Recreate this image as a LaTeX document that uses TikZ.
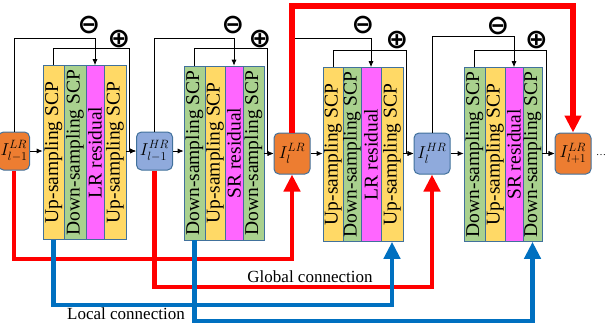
\documentclass[tikz,border=0pt]{standalone}
\usepackage{fontspec}
\setmainfont{Liberation Serif}
\newfontfamily\signfont{DejaVu Sans}
\usepackage{amsmath}
\usepackage{amssymb}
\usetikzlibrary{arrows.meta}

\definecolor{boxorange}{HTML}{ED7D31}
\definecolor{boxblue}{HTML}{8FAADC}
\definecolor{edgeblue}{HTML}{41719C}
\definecolor{colyellow}{HTML}{FFD966}
\definecolor{colgreen}{HTML}{A9D18E}
\definecolor{colpink}{HTML}{FF66FF}
\definecolor{linkblue}{HTML}{0070C0}

\begin{document}
\begin{tikzpicture}[x=1pt,y=-1pt,>={Latex[length=6pt,width=5pt]},line width=0.8pt,
  ibox/.style={draw=edgeblue,line width=1pt,rounded corners=5pt,minimum width=36pt,inner sep=0pt,font=\fontsize{18.5}{19}\selectfont},
  lrbox/.style={ibox,fill=boxorange,minimum height=#1},
  hrbox/.style={ibox,fill=boxblue,minimum height=#1},
  col/.style={draw=edgeblue,line width=0.6pt,minimum height=174pt,minimum width=#1,inner sep=0pt,font=\fontsize{19.5}{20}\selectfont},
  sign/.style={inner sep=0pt,font=\signfont\bfseries\fontsize{27}{27}\selectfont},
  globalline/.style={line width=4.5pt,red,-{Triangle[length=17pt,width=16pt]}},
  localline/.style={line width=4.5pt,linkblue,-{Triangle[length=17pt,width=16pt]}}]
  \useasboundingbox (0,0) rectangle (609,329);

  % feature nodes
  \node[lrbox=38pt,minimum width=31pt] (lrA) at (14,151) {$I_{l-1}^{LR}$};
  \node[hrbox=38pt] (hrA) at (154.5,151) {$I_{l-1}^{HR}$};
  \node[lrbox=41pt] (lrB) at (292,153.5) {$I_{l}^{LR}$};
  \node[hrbox=41pt] (hrB) at (432,153.5) {$I_{l}^{HR}$};
  \node[lrbox=41pt] (lrC) at (573,153.5) {$I_{l+1}^{LR}$};
  \node (dots) at (601,155) {\ldots};

  % block 1
  \node[col=21pt,fill=colyellow] (b1c1) at (53.5,152.5) {\rotatebox{90}{Up-sampling SCP}};
  \node[col=22pt,fill=colgreen]  (b1c2) at (75,152.5)   {\rotatebox{90}{Down-sampling SCP}};
  \node[col=18pt,fill=colpink]   (b1c3) at (95,152.5)   {\rotatebox{90}{LR residual}};
  \node[col=22pt,fill=colyellow] (b1c4) at (115,152.5)  {\rotatebox{90}{Up-sampling SCP}};
  % block 2
  \node[col=21pt,fill=colgreen]  (b2c1) at (194.5,153)  {\rotatebox{90}{Down-sampling SCP}};
  \node[col=20pt,fill=colyellow] (b2c2) at (215,153)    {\rotatebox{90}{Up-sampling SCP}};
  \node[col=18pt,fill=colpink]   (b2c3) at (234,153)    {\rotatebox{90}{SR residual}};
  \node[col=21pt,fill=colgreen]  (b2c4) at (253.5,153)  {\rotatebox{90}{Down-sampling SCP}};
  % block 3
  \node[col=20pt,fill=colyellow] (b3c1) at (333,154.5)  {\rotatebox{90}{Up-sampling SCP}};
  \node[col=18pt,fill=colgreen]  (b3c2) at (352,154.5)  {\rotatebox{90}{Down-sampling SCP}};
  \node[col=20pt,fill=colpink]   (b3c3) at (371,154.5)  {\rotatebox{90}{LR residual}};
  \node[col=22pt,fill=colyellow] (b3c4) at (392,154.5)  {\rotatebox{90}{Up-sampling SCP}};
  % block 4
  \node[col=21pt,fill=colgreen]  (b4c1) at (474.5,154.5) {\rotatebox{90}{Down-sampling SCP}};
  \node[col=20pt,fill=colyellow] (b4c2) at (495,154.5)   {\rotatebox{90}{Up-sampling SCP}};
  \node[col=18pt,fill=colpink]   (b4c3) at (514,154.5)   {\rotatebox{90}{SR residual}};
  \node[col=19pt,fill=colgreen]  (b4c4) at (532.5,154.5) {\rotatebox{90}{Down-sampling SCP}};

  % forward path
  \draw[->] (lrA) -- (lrA -| b1c1.west);
  \draw[->] (b1c4.east |- hrA) -- (hrA.west);
  \draw[->] (hrA) -- (hrA -| b2c1.west);
  \draw[->] (b2c4.east |- lrB) -- (lrB.west);
  \draw[->] (lrB) -- (lrB -| b3c1.west);
  \draw[->] (b3c4.east |- hrB) -- (hrB.west);
  \draw[->] (hrB) -- (hrB -| b4c1.west);
  \draw[->] (b4c4.east |- lrC) -- (lrC.west);

  % subtract / add loops
  \draw[->] (lrA.north) |- (b1c3.north |- 0,38) -- (b1c3.north);
  \draw[->] (b1c1.north) |- (129,48) |- (hrA.west);
  \draw[->] (hrA.north) |- (b2c3.north |- 0,38) -- (b2c3.north);
  \draw[->] (b2c1.north) |- (267,48) |- (lrB.west);
  \draw[->] (lrB.north) |- (b3c3.north |- 0,38) -- (b3c3.north);
  \draw[->] (b3c1.north) |- (406,50) |- (hrB.west);
  \draw[->] (hrB.north) |- (b4c3.north |- 0,36) -- (b4c3.north);
  \draw[->] (b4c1.north) |- (546,50) |- (lrC.west);

  \node[sign] (m1) at (89,25)    {⊖};
  \node[sign] (p1) at (119,39)   {⊕};
  \node[sign] (m2) at (233,25)   {⊖};
  \node[sign] (p2) at (260,39)   {⊕};
  \node[sign] (m3) at (363,25)   {⊖};
  \node[sign] (p3) at (397,40)   {⊕};
  \node[sign] (m4) at (498,26)   {⊖};
  \node[sign] (p4) at (536.5,40) {⊕};

  % global and local connections
  \draw[globalline,line width=6pt] (lrB.north) |- (lrC.north |- 0,6) -- (lrC.north);
  \draw[globalline] (lrA.south) |- (lrB.south |- 0,259) -- (lrB.south);
  \draw[globalline] (hrA.south) |- (hrB.south |- 0,287) -- (hrB.south);
  \draw[localline] (b1c1.south) |- (b3c4.south |- 0,305) -- (b3c4.south);
  \draw[localline] (b2c1.south) |- (b4c4.south |- 0,321) -- (b4c4.south);

  \node[font=\fontsize{17}{17}\selectfont] (glabel) at (310,277) {Global connection};
  \node[font=\fontsize{17}{17}\selectfont] (llabel) at (126,314) {Local connection};
\end{tikzpicture}
\end{document}
